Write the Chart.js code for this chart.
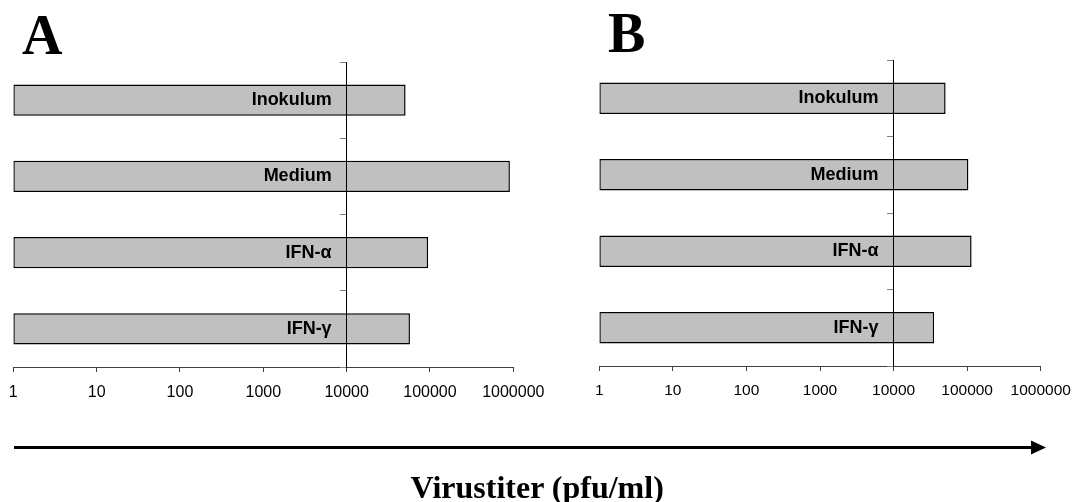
<!DOCTYPE html>
<html>
<head>
<meta charset="utf-8">
<script src="https://cdn.jsdelivr.net/npm/chart.js@4.4.1/dist/chart.umd.min.js"></script>
<style>
  html, body { margin: 0; padding: 0; background: #fff; }
  body { width: 1081px; height: 502px; position: relative; overflow: hidden; }
  canvas { position: absolute; }
  .panel { position: absolute; font-family: "Liberation Serif", "Times New Roman", serif; font-weight: bold; font-size: 56px; line-height: 1; color: #000; }
  .xtitle { position: absolute; font-family: "Liberation Serif", "Times New Roman", serif; font-weight: bold; font-size: 32px; line-height: 1; color: #000; white-space: nowrap; }
  svg { position: absolute; left: 0; top: 0; }
</style>
</head>
<body>
<div class="panel" style="left:22px; top:7px;">A</div>
<div class="panel" style="left:608px; top:5px;">B</div>
<canvas id="chartA" width="560" height="420" style="left:0px; top:0px;"></canvas>
<canvas id="chartB" width="500" height="420" style="left:580px; top:0px;"></canvas>
<svg width="1081" height="502">
  <line x1="14" y1="447.5" x2="1033" y2="447.5" stroke="#000" stroke-width="3"/>
  <polygon points="1031,440.5 1046,447.5 1031,454.5" fill="#000"/>
</svg>
<div class="xtitle" id="xtitle" style="top:471px;">Virustiter (pfu/ml)</div>
<script>
const categories = ['Inokulum', 'Medium', 'IFN-\u03b1', 'IFN-\u03b3'];
const valuesA = [51000, 910000, 95000, 57500];
const valuesB = [51000, 104000, 115000, 35600];
const xTickValues = [1, 10, 100, 1000, 10000, 100000, 1000000];
const crossValue = 10000;

function makeChart(id, values, pad, tickFont, tickLine) {
  return new Chart(document.getElementById(id), {
    type: 'bar',
    data: {
      labels: categories,
      datasets: [{
        data: values,
        backgroundColor: '#c0c0c0',
        borderColor: '#000',
        borderWidth: 1.5,
        borderSkipped: false,
        categoryPercentage: 1,
        barPercentage: 0.41
      }]
    },
    options: {
      indexAxis: 'y',
      responsive: false,
      animation: false,
      devicePixelRatio: 1,
      layout: { padding: pad },
      plugins: { legend: { display: false }, tooltip: { enabled: false } },
      scales: {
        x: {
          type: 'logarithmic',
          min: 1,
          max: 1000000,
          afterBuildTicks: s => { s.ticks = xTickValues.map(v => ({ value: v, major: true })); },
          afterFit: s => { s.height = 40; },
          grid: { drawOnChartArea: false, drawTicks: true, tickLength: 5, color: '#404040' },
          border: { color: '#404040', width: 1 },
          ticks: {
            autoSkip: false, maxRotation: 0, padding: 3, color: '#000',
            font: { family: 'Liberation Sans', size: tickFont, lineHeight: tickLine },
            callback: v => String(v)
          }
        },
        y: {
          type: 'category',
          position: { x: crossValue },
          offset: true,
          grid: { drawOnChartArea: false, drawTicks: true, tickLength: 6, color: '#808080', offset: true, z: 1 },
          border: { color: '#000', width: 1, z: 1 },
          ticks: {
            z: 1,
            color: '#000',
            font: { family: 'Liberation Sans', size: 18, weight: 'bold' },
            callback: (v) => categories[v] + '   '
          }
        }
      }
    }
  });
}

makeChart('chartA', valuesA, { left: 13.3, right: 560 - 513.3, top: 62, bottom: 420 - 367 - 40 }, 16, 2.2);
makeChart('chartB', valuesB, { left: 19.3, right: 500 - 460.7, top: 60, bottom: 420 - 366 - 40 }, 15.5, 2.2);

const t = document.getElementById('xtitle');
t.style.left = (537 - t.offsetWidth / 2) + 'px';
</script>
</body>
</html>
